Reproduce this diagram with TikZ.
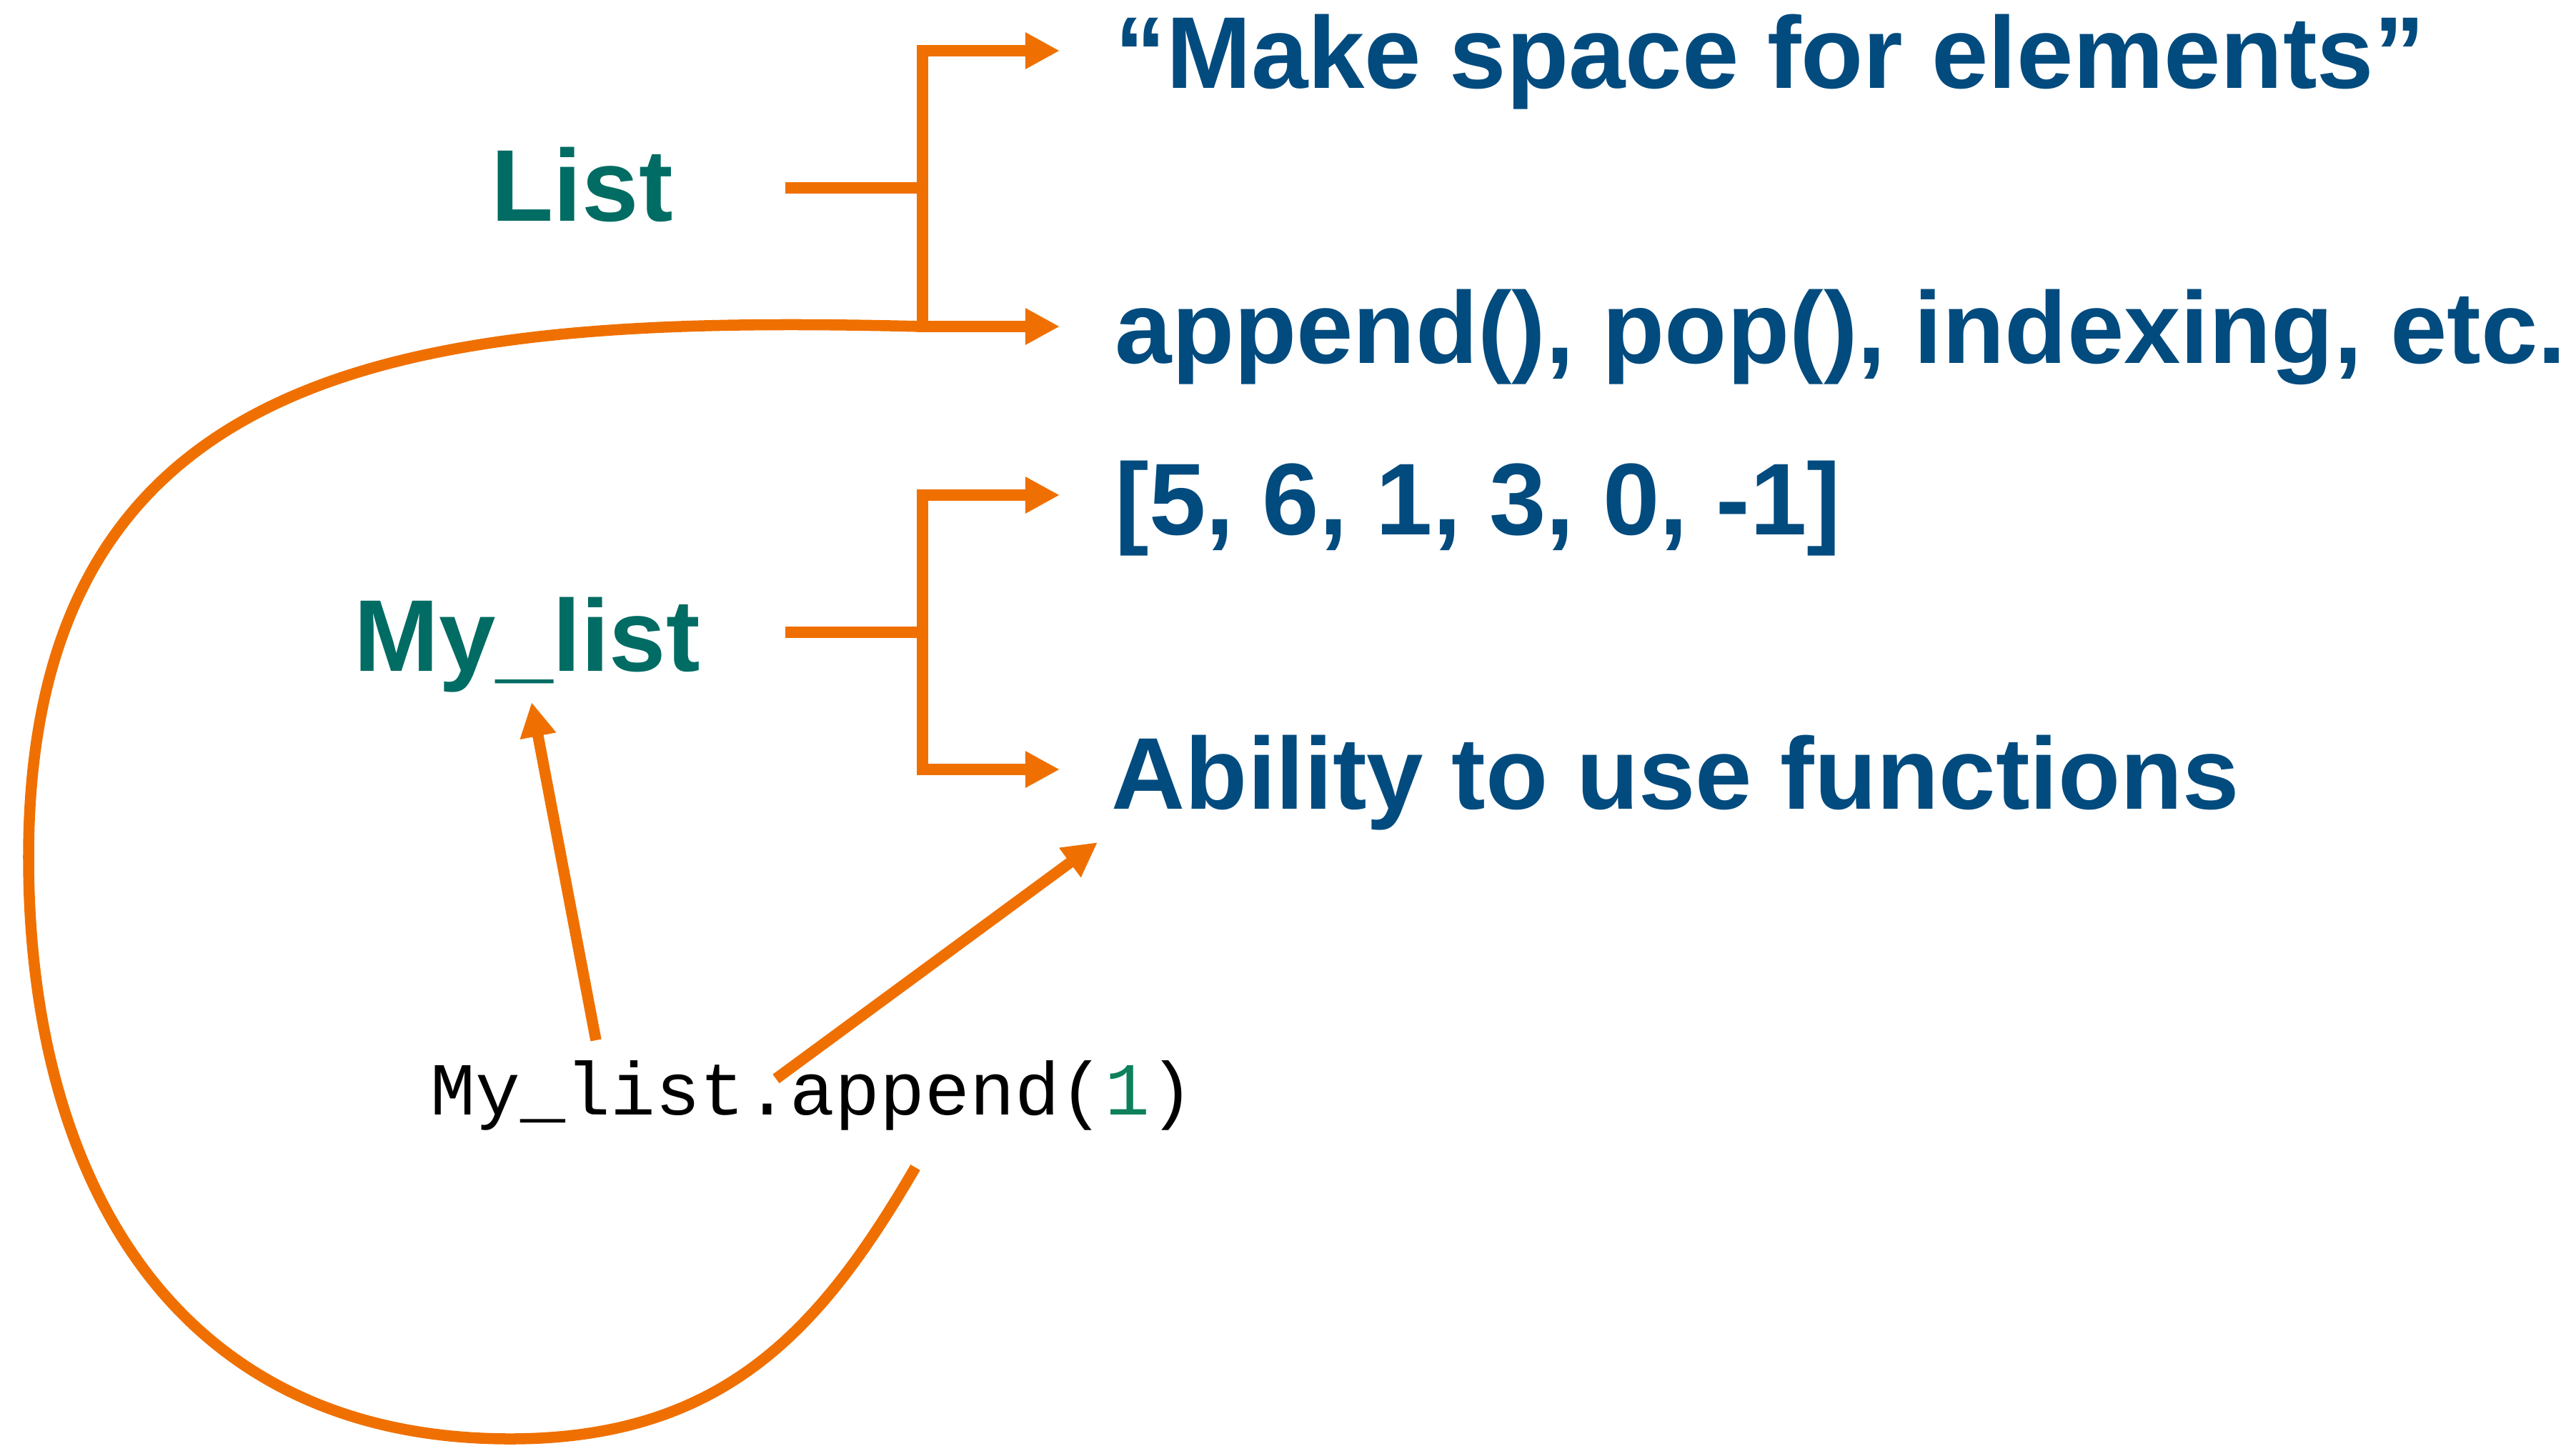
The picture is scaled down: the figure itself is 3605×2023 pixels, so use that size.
\documentclass[tikz,border=0pt]{standalone}
\usepackage{fontspec}
\setmainfont{Liberation Sans}
\newfontfamily\codefont{Liberation Mono}
\usetikzlibrary{arrows.meta}
\definecolor{orng}{RGB}{239,112,0}
\definecolor{tblue}{RGB}{2,75,126}
\definecolor{tgreen}{RGB}{0,108,99}
\definecolor{cgreen}{RGB}{14,128,92}
\begin{document}
\begin{tikzpicture}[x=0.01cm,y=-0.01cm,
  lbl/.style={inner sep=0,anchor=base west,font=\fontsize{40.6}{48}\selectfont\bfseries},
  bluetxt/.style={lbl,text=tblue},
  greentxt/.style={lbl,text=tgreen},
  codetxt/.style={inner sep=0,anchor=base west,font=\codefont\fontsize{29.8}{36}\selectfont},
  conn/.style={draw=orng,line width=0.155cm},
  arr/.style={conn,-{Triangle[length=0.48cm,width=0.48cm]}},
  arrtwo/.style={conn,{Triangle[length=0.48cm,width=0.48cm]}-{Triangle[length=0.48cm,width=0.48cm]}}]
\useasboundingbox (0,0) rectangle (3605,2023);
% texts
\node[bluetxt] (t1) at (1560,123) {“Make space for elements”};
\node[bluetxt] (t2) at (1560,508) {append(), pop(), indexing, etc.};
\node[bluetxt] (t3) at (1560,748) {[5, 6, 1, 3, 0, -1]};
\node[bluetxt] (t4) at (1555,1132) {Ability to use functions};
\node[greentxt] (L) at (687,309) {List};
\node[greentxt] (M) at (495,939) {My\_list};
\node[codetxt] (code) at (602,1560) {My\_list.append(\textcolor{cgreen}{1})};
% coordinates
\coordinate (aT) at (1483,71);
\coordinate (aB) at (1483,457);
\coordinate (kT) at (1291,71);
\coordinate (kB) at (1291,457);
\coordinate (kM) at (1291,263);
\coordinate (hL) at (1099,263);
\coordinate (bT) at (1483,693);
\coordinate (bB) at (1483,1077);
\coordinate (jT) at (1291,693);
\coordinate (jB) at (1291,1077);
\coordinate (jM) at (1291,885);
\coordinate (hM) at (1099,885);
\coordinate (s1) at (834,1456);
\coordinate (e1) at (744,983);
\coordinate (s2) at (1086,1510);
\coordinate (e2) at (1536,1179);
\coordinate (s3) at (1281,1634);
\coordinate (lb) at (714,2014);
\coordinate (ll) at (40,1200);
% brackets
\draw[arrtwo] (aT) -- (kT) -- (kB) -- (aB);
\draw[conn] (hL) -- (kM);
\draw[arrtwo] (bT) -- (jT) -- (jB) -- (bB);
\draw[conn] (hM) -- (jM);
% arrows from code
\draw[arr] (s1) -- (e1);
\draw[arr] (s2) -- (e2);
% loop curve
\draw[conn] (s3) .. controls (1150,1859) and (1014,2014) .. (lb)
  .. controls (244,2014) and (40,1650) .. (ll)
  .. controls (40,490) and (600,440) .. (kB);
\end{tikzpicture}
\end{document}
